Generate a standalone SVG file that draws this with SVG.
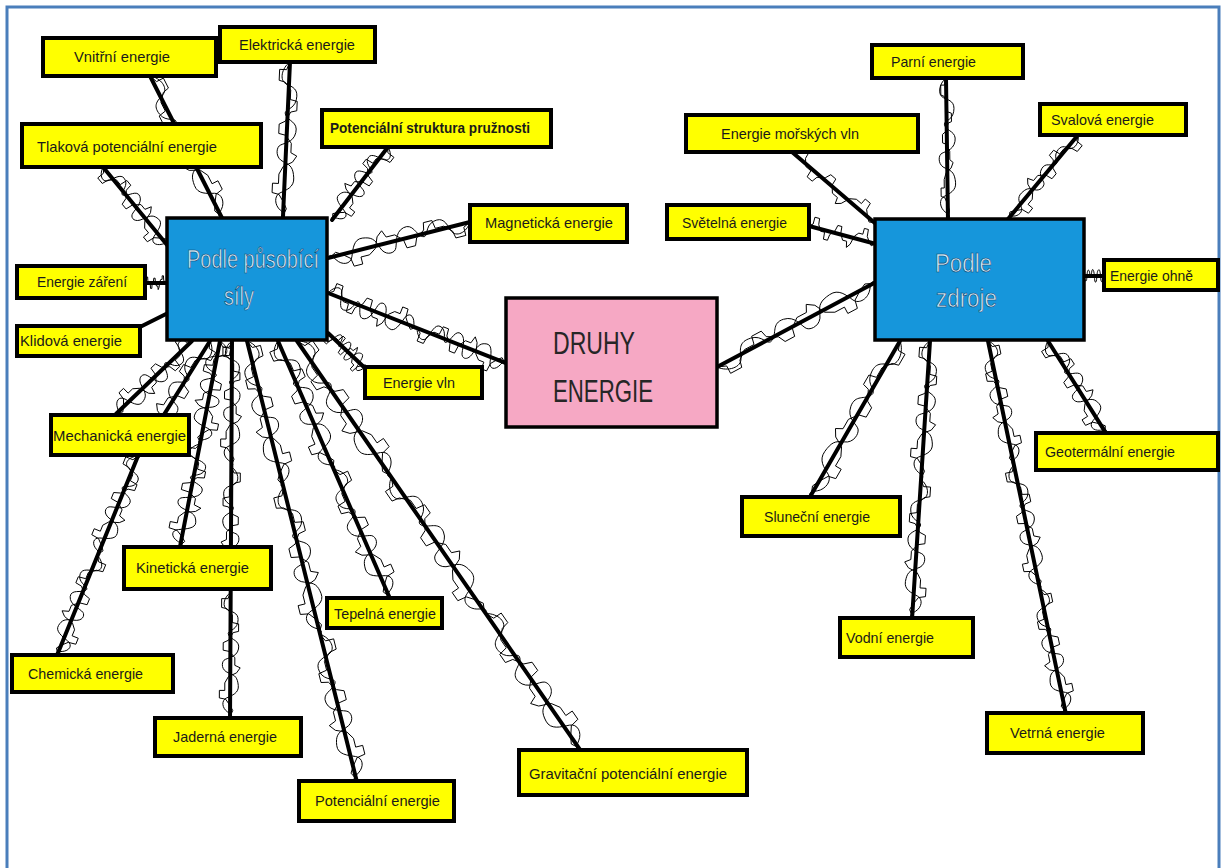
<svg xmlns="http://www.w3.org/2000/svg" xmlns:xlink="http://www.w3.org/1999/xlink" width="1227" height="868" viewBox="0 0 1227 868">
  <style>
    .frame { fill: #ffffff; stroke: #4a7ebb; stroke-width: 3; }
    .leaf { fill: #ffff00; stroke: #000; stroke-width: 4; }
    .hub { fill: #1696db; stroke: #000; stroke-width: 3.5; }
    .root { fill: #f6a8c4; stroke: #000; stroke-width: 3.5; }
    .lbl { font-family: "Liberation Sans", Arial, sans-serif; font-size: 15px; fill: #1a1a1a; }
    .bold { font-weight: bold; }
    .hubtxt { font-family: "Liberation Sans", Arial, sans-serif; font-size: 26px; fill: #d4ebf8; stroke: #0c3e6b; stroke-width: 0.6; }
    .roottxt { font-family: "Liberation Sans", Arial, sans-serif; font-size: 31px; fill: #262626; }
    .wire { stroke: #000; stroke-width: 4; stroke-linecap: round; fill: none; }
    .scr { stroke: #000; stroke-width: 1; fill: none; vector-effect: non-scaling-stroke; stroke-linejoin: round; }
  </style>
  <defs>
    <!-- hand-drawn jitter: one stretch of 100 units along the x axis -->
    <path id="sA" class="scr" d="M0,0 L5,-3 L5,-10 L12,-10 L13,-4 L18,2 L24,2 L25,9 L31,9 L32,3 L38,-2 L40,-8 L46,-8 L47,-1 L52,5 L58,5 L60,11 L64,7 L67,-2 L72,-6 L78,-6 L78,-12 L84,-12 L85,-5 L90,0 L94,3 L97,1 L100,0"/>
    <path id="sB" class="scr" d="M0,0 C4,8 12,10 14,3 S17,-10 24,-8 S30,5 34,2 S38,-11 45,-9 S52,4 54,7 S62,10 64,2 S68,-8 74,-9 S82,-2 84,4 S92,9 95,3 S98,-2 100,0"/>
    <g id="t"><use href="#sA"/><use href="#sB" transform="scale(1 -1)"/></g>
    <g id="u"><use href="#sA" transform="scale(1 -1)"/><use href="#sB"/></g>
  </defs>

  <rect class="frame" x="7" y="7" width="1212" height="870"/>

  <g id="connectors">
    <!-- left hub spokes -->
    <g transform="translate(150 76) rotate(63.1)"><g transform="scale(1.592 1.1)"><use href="#t"/></g><line class="wire" x1="0" y1="0" x2="159.2" y2="0"/></g>
    <g transform="translate(290 62) rotate(92.6)"><g transform="scale(1.562 1)"><use href="#u"/></g><line class="wire" x1="0" y1="0" x2="156.2" y2="0"/></g>
    <g transform="translate(388 147) rotate(127.5)"><g transform="scale(0.92 1.1)"><use href="#t"/></g><line class="wire" x1="0" y1="0" x2="92" y2="0"/></g>
    <g transform="translate(103 167) rotate(50.6)"><g transform="scale(1.023 1.1)"><use href="#u"/></g><line class="wire" x1="0" y1="0" x2="102.3" y2="0"/></g>
    <g transform="translate(470 222) rotate(165.8)"><g transform="scale(1.465 1.2)"><use href="#t"/></g><line class="wire" x1="0" y1="0" x2="146.5" y2="0"/></g>
    <g transform="translate(145 283)"><g transform="scale(0.22 0.6)"><use href="#sA"/></g><line class="wire" x1="0" y1="0" x2="22" y2="0"/></g>
    <g transform="translate(140 327) rotate(-26.6)"><line class="wire" x1="0" y1="0" x2="31.3" y2="0"/></g>
    <g transform="translate(328 333) rotate(43.5)"><g transform="scale(0.523 0.9)"><use href="#u"/></g><line class="wire" x1="0" y1="0" x2="52.3" y2="0"/></g>
    <g transform="translate(328 293) rotate(21.5)"><g transform="scale(0.957 1.2)"><use href="#t"/><use href="#u" x="100"/></g><line class="wire" x1="0" y1="0" x2="191.3" y2="0"/></g>
    <g transform="translate(192 341) rotate(136.2)"><g transform="scale(1.054 1.1)"><use href="#u"/></g><line class="wire" x1="0" y1="0" x2="105.4" y2="0"/></g>
    <g transform="translate(210 341) rotate(122)"><g transform="scale(1.357 1.1)"><use href="#t"/></g><line class="wire" x1="0" y1="0" x2="135.7" y2="0"/></g>
    <g transform="translate(138 456) rotate(112.1)"><g transform="scale(1.075 1.1)"><use href="#u"/><use href="#t" x="100"/></g><line class="wire" x1="0" y1="0" x2="214.9" y2="0"/></g>
    <g transform="translate(220 341) rotate(101)"><g transform="scale(1.049 1.2)"><use href="#t"/><use href="#u" x="100"/></g><line class="wire" x1="0" y1="0" x2="209.8" y2="0"/></g>
    <g transform="translate(232 341) rotate(90.3)"><g transform="scale(1.257 0.9)"><use href="#u"/><use href="#t" x="100"/><use href="#u" x="200"/></g><line class="wire" x1="0" y1="0" x2="377" y2="0"/></g>
    <g transform="translate(247 341) rotate(76)"><g transform="scale(1.512 1.2)"><use href="#t"/><use href="#u" x="100"/><use href="#t" x="200"/></g><line class="wire" x1="0" y1="0" x2="453.5" y2="0"/></g>
    <g transform="translate(278 341) rotate(66.5)"><g transform="scale(1.402 1.2)"><use href="#u"/><use href="#t" x="100"/></g><line class="wire" x1="0" y1="0" x2="280.3" y2="0"/></g>
    <g transform="translate(297 341) rotate(55.3)"><g transform="scale(1.658 1.3)"><use href="#t"/><use href="#u" x="100"/><use href="#t" x="200"/></g><line class="wire" x1="0" y1="0" x2="497.4" y2="0"/></g>

    <!-- right hub spokes -->
    <g transform="translate(717 367) rotate(-28.1)"><g transform="scale(1.803 1.2)"><use href="#u"/></g><line class="wire" x1="0" y1="0" x2="180.3" y2="0"/></g>
    <g transform="translate(792 152) rotate(40.6)"><g transform="scale(1.106 1)"><use href="#sA"/></g><line class="wire" x1="0" y1="0" x2="110.6" y2="0"/></g>
    <g transform="translate(946 78) rotate(89.2)"><g transform="scale(1.41 0.9)"><use href="#sB"/><use href="#sA" transform="scale(1 -0.6)"/></g><line class="wire" x1="0" y1="0" x2="141" y2="0"/></g>
    <g transform="translate(1078 135) rotate(129.8)"><g transform="scale(1.093 1)"><use href="#sA"/><use href="#sB" transform="scale(1 -0.7)"/></g><line class="wire" x1="0" y1="0" x2="109.3" y2="0"/></g>
    <g transform="translate(809 226) rotate(15)"><g transform="scale(0.694 1)"><use href="#sA"/></g><line class="wire" x1="0" y1="0" x2="69.4" y2="0"/></g>
    <g transform="translate(1084 276)"><g transform="scale(0.2 0.7)"><use href="#sB"/></g><line class="wire" x1="0" y1="0" x2="20" y2="0"/></g>
    <g transform="translate(900 341) rotate(120)"><g transform="scale(1.801 1.1)"><use href="#t"/></g><line class="wire" x1="0" y1="0" x2="180.1" y2="0"/></g>
    <g transform="translate(930 341) rotate(93.7)"><g transform="scale(1.388 1)"><use href="#u"/><use href="#t" x="100"/></g><line class="wire" x1="0" y1="0" x2="277.6" y2="0"/></g>
    <g transform="translate(988 341) rotate(78.2)"><g transform="scale(1.267 1)"><use href="#t"/><use href="#u" x="100"/><use href="#t" x="200"/></g><line class="wire" x1="0" y1="0" x2="380.1" y2="0"/></g>
    <g transform="translate(1048 341) rotate(57.8)"><g transform="scale(1.088 1.1)"><use href="#u"/></g><line class="wire" x1="0" y1="0" x2="108.8" y2="0"/></g>
  </g>

  <!-- central node -->
  <g id="druhy-energie">
    <rect class="root" x="506" y="298" width="211" height="129"/>
    <text class="roottxt" x="553" y="354" textLength="82" lengthAdjust="spacingAndGlyphs">DRUHY</text>
    <text class="roottxt" x="553" y="402" textLength="100" lengthAdjust="spacingAndGlyphs">ENERGIE</text>
  </g>

  <!-- hubs -->
  <g id="podle-pusobici-sily">
    <rect class="hub" x="167" y="218" width="160" height="122"/>
    <text class="hubtxt" x="187" y="268" textLength="132" lengthAdjust="spacingAndGlyphs">Podle působící</text>
    <text class="hubtxt" x="224" y="305" textLength="30" lengthAdjust="spacingAndGlyphs">síly</text>
  </g>
  <g id="podle-zdroje">
    <rect class="hub" x="875" y="219" width="209" height="121"/>
    <text class="hubtxt" x="935" y="272" textLength="57" lengthAdjust="spacingAndGlyphs">Podle</text>
    <text class="hubtxt" x="936" y="307" textLength="61" lengthAdjust="spacingAndGlyphs">zdroje</text>
  </g>

  <!-- left leaves -->
  <g id="vnitrni-energie"><rect class="leaf" x="43" y="38" width="173" height="38"/><text class="lbl" x="74" y="62" textLength="96" lengthAdjust="spacingAndGlyphs">Vnitřní energie</text></g>
  <g id="elektricka-energie"><rect class="leaf" x="220" y="27" width="155" height="35"/><text class="lbl" x="239" y="50" textLength="116" lengthAdjust="spacingAndGlyphs">Elektrická energie</text></g>
  <g id="potencialni-struktura-pruznosti"><rect class="leaf" x="322" y="110" width="229" height="37"/><text class="lbl bold" x="330" y="133" textLength="200" lengthAdjust="spacingAndGlyphs">Potenciální struktura pružnosti</text></g>
  <g id="tlakova-potencialni-energie"><rect class="leaf" x="22" y="124" width="239" height="43"/><text class="lbl" x="37" y="152" textLength="180" lengthAdjust="spacingAndGlyphs">Tlaková potenciální energie</text></g>
  <g id="magneticka-energie"><rect class="leaf" x="470" y="205" width="157" height="37"/><text class="lbl" x="485" y="228" textLength="128" lengthAdjust="spacingAndGlyphs">Magnetická energie</text></g>
  <g id="energie-zareni"><rect class="leaf" x="17" y="266" width="128" height="32"/><text class="lbl" x="37" y="287" textLength="90" lengthAdjust="spacingAndGlyphs">Energie záření</text></g>
  <g id="klidova-energie"><rect class="leaf" x="17" y="326" width="123" height="30"/><text class="lbl" x="20" y="346" textLength="102" lengthAdjust="spacingAndGlyphs">Klidová energie</text></g>
  <g id="energie-vln"><rect class="leaf" x="365" y="367" width="117" height="31"/><text class="lbl" x="383" y="388" textLength="72" lengthAdjust="spacingAndGlyphs">Energie vln</text></g>
  <g id="mechanicka-energie"><rect class="leaf" x="51" y="415" width="138" height="40"/><text class="lbl" x="53" y="441" textLength="133" lengthAdjust="spacingAndGlyphs">Mechanická energie</text></g>
  <g id="kineticka-energie"><rect class="leaf" x="124" y="547" width="147" height="42"/><text class="lbl" x="136" y="573" textLength="113" lengthAdjust="spacingAndGlyphs">Kinetická energie</text></g>
  <g id="tepelna-energie"><rect class="leaf" x="327" y="598" width="115" height="30"/><text class="lbl" x="334" y="619" textLength="102" lengthAdjust="spacingAndGlyphs">Tepelná energie</text></g>
  <g id="chemicka-energie"><rect class="leaf" x="12" y="655" width="161" height="37"/><text class="lbl" x="28" y="679" textLength="115" lengthAdjust="spacingAndGlyphs">Chemická energie</text></g>
  <g id="jaderna-energie"><rect class="leaf" x="155" y="718" width="146" height="38"/><text class="lbl" x="173" y="742" textLength="104" lengthAdjust="spacingAndGlyphs">Jaderná energie</text></g>
  <g id="potencialni-energie"><rect class="leaf" x="299" y="781" width="155" height="40"/><text class="lbl" x="315" y="806" textLength="125" lengthAdjust="spacingAndGlyphs">Potenciální energie</text></g>
  <g id="gravitacni-potencialni-energie"><rect class="leaf" x="519" y="750" width="228" height="45"/><text class="lbl" x="529" y="779" textLength="198" lengthAdjust="spacingAndGlyphs">Gravitační potenciální energie</text></g>

  <!-- right leaves -->
  <g id="parni-energie"><rect class="leaf" x="872" y="45" width="151" height="33"/><text class="lbl" x="891" y="67" textLength="85" lengthAdjust="spacingAndGlyphs">Parní energie</text></g>
  <g id="energie-morskych-vln"><rect class="leaf" x="686" y="115" width="232" height="37"/><text class="lbl" x="721" y="139" textLength="138" lengthAdjust="spacingAndGlyphs">Energie mořských vln</text></g>
  <g id="svalova-energie"><rect class="leaf" x="1040" y="104" width="146" height="31"/><text class="lbl" x="1051" y="125" textLength="103" lengthAdjust="spacingAndGlyphs">Svalová energie</text></g>
  <g id="svetelna-energie"><rect class="leaf" x="667" y="205" width="142" height="34"/><text class="lbl" x="682" y="228" textLength="105" lengthAdjust="spacingAndGlyphs">Světelná energie</text></g>
  <g id="energie-ohne"><rect class="leaf" x="1104" y="260" width="114" height="30"/><text class="lbl" x="1110" y="281" textLength="83" lengthAdjust="spacingAndGlyphs">Energie ohně</text></g>
  <g id="geotermalni-energie"><rect class="leaf" x="1036" y="433" width="182" height="37"/><text class="lbl" x="1045" y="457" textLength="130" lengthAdjust="spacingAndGlyphs">Geotermální energie</text></g>
  <g id="slunecni-energie"><rect class="leaf" x="742" y="497" width="158" height="39"/><text class="lbl" x="764" y="522" textLength="106" lengthAdjust="spacingAndGlyphs">Sluneční energie</text></g>
  <g id="vodni-energie"><rect class="leaf" x="840" y="618" width="133" height="39"/><text class="lbl" x="846" y="643" textLength="88" lengthAdjust="spacingAndGlyphs">Vodní energie</text></g>
  <g id="vetrna-energie"><rect class="leaf" x="987" y="713" width="156" height="40"/><text class="lbl" x="1010" y="738" textLength="95" lengthAdjust="spacingAndGlyphs">Vetrná energie</text></g>
</svg>
